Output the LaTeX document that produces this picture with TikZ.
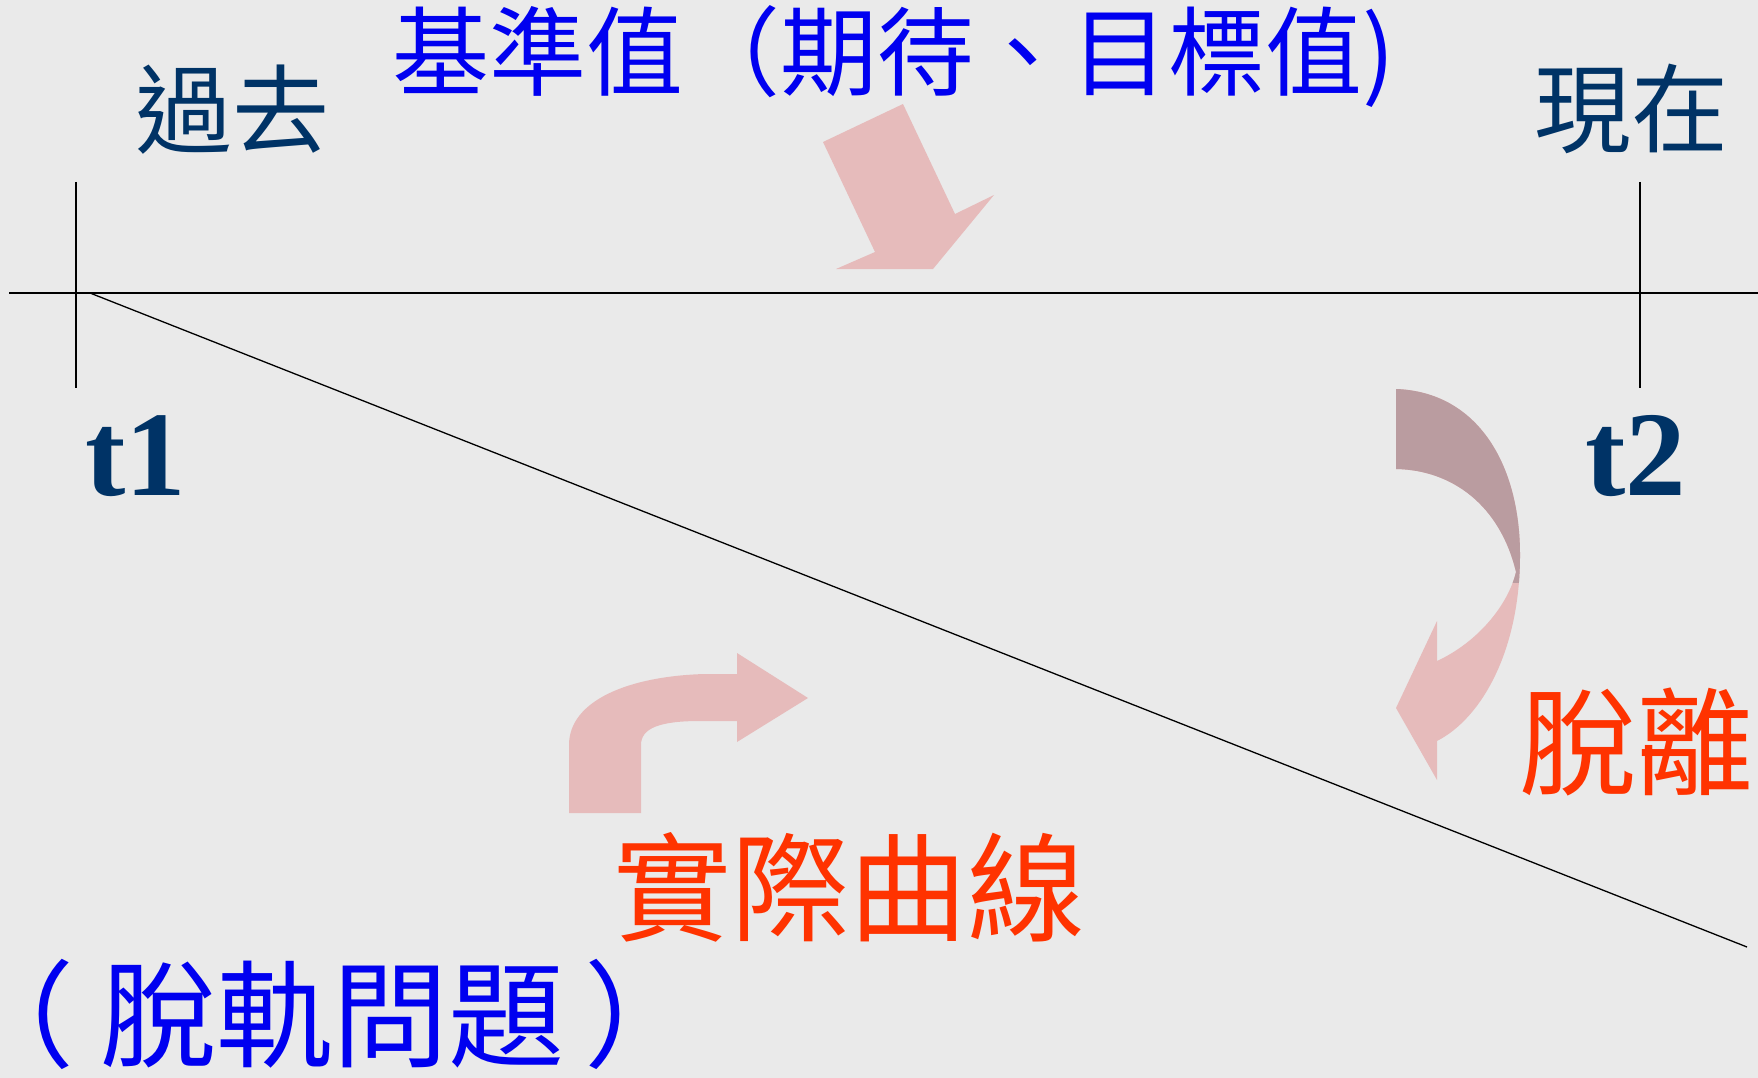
\documentclass[tikz,border=0pt]{standalone}
\usepackage{fontspec}
\setmainfont{Liberation Serif}
\newfontfamily\cjk{Noto Sans CJK TC}
\definecolor{bgc}{RGB}{234,234,234}
\definecolor{navy}{RGB}{0,51,102}
\definecolor{bluetxt}{RGB}{0,0,240}
\definecolor{redtxt}{RGB}{255,51,0}
\definecolor{pinkarr}{RGB}{230,187,187}
\definecolor{mauvearr}{RGB}{186,156,160}
\tikzset{
  axisline/.style={draw=black,line width=1.3pt},
  lbl/.style={inner sep=0pt,outer sep=0pt,anchor=center},
  cjkbig/.style={lbl,font=\cjk\fontsize{#1}{#1}\selectfont},
  tlbl/.style={lbl,text=navy,font=\bfseries\fontsize{121}{121}\selectfont},
  arrowfill/.style={fill=pinkarr,draw=none}
}
\begin{document}
\begin{tikzpicture}[x=1pt,y=-1pt]
\fill[bgc] (0,0) rectangle (1758,1078);
\useasboundingbox (0,0) rectangle (1758,1078);

% axis coordinates
\coordinate (hL) at (9,293);
\coordinate (hR) at (1758,293);
\coordinate (v1T) at (76,182);
\coordinate (v1B) at (76,388);
\coordinate (v2T) at (1640,182);
\coordinate (v2B) at (1640,388);
\coordinate (dS) at (90,293);
\coordinate (dE) at (1747,947);

\draw[axisline] (hL) -- (hR);
\draw[axisline] (v1T) -- (v1B);
\draw[axisline] (v2T) -- (v2B);
\draw[axisline] (dS) -- (dE);

% arrow 1 (down toward baseline)
\fill[arrowfill] (823,142) -- (903,104) -- (955,214) -- (994,195) -- (933,269)
  -- (836,269) -- (875,252) -- cycle;

% arrow 2 (curved, right side)
\def\curvedarrow{(1396,389) .. controls (1478,392) and (1520,465) .. (1520,555)
  .. controls (1520,650) and (1482,718) .. (1437,741)
  -- (1437,780) -- (1396,708) -- (1437,621) -- (1437,661)
  .. controls (1478,642) and (1508,605) .. (1516,572)
  .. controls (1500,505) and (1452,470) .. (1396,469) -- cycle}
\fill[arrowfill] \curvedarrow;
\begin{scope}
  \clip (1380,380) rectangle (1540,582);
  \fill[mauvearr] \curvedarrow;
\end{scope}

% arrow 3 (bent arrow, bottom middle)
\fill[arrowfill] (569,813) -- (569,745) .. controls (569,700) and (630,676) .. (705,674)
  -- (737,674) -- (737,653) -- (808,698) -- (737,742) -- (737,721) -- (700,721)
  .. controls (660,721) and (641,728) .. (641,745) -- (641,813) -- cycle;

% labels
\node[cjkbig=97,text=navy] (past) at (232,110) {過去};
\node[cjkbig=97,text=navy] (now) at (1631,109) {現在};
\node[cjkbig=97,text=bluetxt] (base) at (894,56) {基準值（期待、目標值)};
\node[tlbl] (t1) at (136,456) {t1};
\node[tlbl] (t2) at (1636,456) {t2};
\node[cjkbig=117,text=redtxt] (dev) at (1636,742) {脫離};
\node[cjkbig=118,text=redtxt] (actual) at (849,887) {實際曲線};
\node[cjkbig=116,text=bluetxt] (derail) at (330,1014) {（\hspace{26pt}脫軌問題\hspace{20pt}）};
\end{tikzpicture}
\end{document}
